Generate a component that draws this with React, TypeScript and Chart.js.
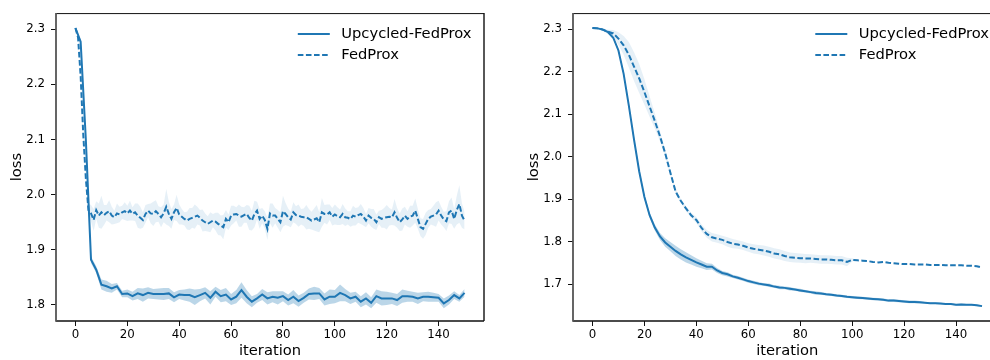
import React, { useEffect, useRef } from "react";
import { Chart, registerables } from "chart.js";

Chart.register(...registerables);
Chart.defaults.font.family = '"DejaVu Sans", sans-serif';

const BLUE = "#1f77b4";
const BAND_STRONG = "rgba(31,119,180,0.30)";
const BAND_LIGHT = "rgba(31,119,180,0.11)";

const SERIES_NAMES = ["Upcycled-FedProx", "FedProx"];
const X_TICKS = [0, 20, 40, 60, 80, 100, 120, 140];
const LEFT_Y_TICKS = [1.8, 1.9, 2.0, 2.1, 2.2, 2.3];
const RIGHT_Y_TICKS = [1.7, 1.8, 1.9, 2.0, 2.1, 2.2, 2.3];

// iteration indices at which each curve was logged
const iterEvery1 = Array.from({ length: 151 }, (_, i) => i);
const iterEvery2 = Array.from({ length: 76 }, (_, i) => i * 2);

// ---- left panel ----
const leftUpcycledMean = [
  2.302, 2.277, 2.100, 1.882, 1.864, 1.837, 1.834, 1.830, 1.834, 1.820,
  1.821, 1.816, 1.821, 1.818, 1.822, 1.820, 1.820, 1.820, 1.821, 1.814,
  1.819, 1.818, 1.818, 1.814, 1.818, 1.822, 1.813, 1.824, 1.816, 1.819,
  1.810, 1.815, 1.827, 1.815, 1.806, 1.812, 1.819, 1.812, 1.815, 1.813,
  1.816, 1.809, 1.815, 1.807, 1.813, 1.820, 1.821, 1.821, 1.810, 1.815,
  1.815, 1.822, 1.818, 1.812, 1.815, 1.806, 1.812, 1.804, 1.816, 1.812,
  1.812, 1.812, 1.809, 1.816, 1.816, 1.815, 1.812, 1.815, 1.815, 1.814,
  1.813, 1.803, 1.809, 1.818, 1.812, 1.822,
];
const leftUpcycledSpread = [
  0.002, 0.004, 0.008, 0.006, 0.006, 0.009, 0.010, 0.008, 0.006, 0.006,
  0.007, 0.008, 0.010, 0.012, 0.010, 0.009, 0.010, 0.011, 0.010, 0.009,
  0.008, 0.010, 0.012, 0.014, 0.011, 0.010, 0.012, 0.009, 0.011, 0.012,
  0.010, 0.012, 0.014, 0.012, 0.010, 0.008, 0.010, 0.011, 0.010, 0.012,
  0.009, 0.010, 0.012, 0.010, 0.009, 0.010, 0.012, 0.010, 0.011, 0.013,
  0.012, 0.015, 0.011, 0.010, 0.009, 0.010, 0.011, 0.010, 0.012, 0.013,
  0.012, 0.010, 0.011, 0.012, 0.010, 0.009, 0.010, 0.008, 0.009, 0.008,
  0.007, 0.009, 0.008, 0.007, 0.006, 0.007,
];
const leftFedProxMean = [
  2.302, 2.285, 2.215, 2.110, 2.030, 1.972, 1.966, 1.954, 1.972, 1.962,
  1.968, 1.963, 1.967, 1.970, 1.962, 1.959, 1.966, 1.964, 1.968, 1.970,
  1.966, 1.971, 1.965, 1.968, 1.962, 1.958, 1.954, 1.965, 1.971, 1.966,
  1.965, 1.970, 1.965, 1.959, 1.966, 1.978, 1.965, 1.956, 1.968, 1.976,
  1.964, 1.960, 1.956, 1.953, 1.956, 1.958, 1.960, 1.962, 1.958, 1.953,
  1.950, 1.947, 1.950, 1.953, 1.951, 1.947, 1.944, 1.941, 1.956, 1.950,
  1.962, 1.964, 1.965, 1.962, 1.960, 1.963, 1.965, 1.958, 1.953, 1.965,
  1.971, 1.956, 1.962, 1.954, 1.938, 1.966, 1.962, 1.962, 1.956, 1.950,
  1.970, 1.965, 1.959, 1.955, 1.968, 1.963, 1.962, 1.960, 1.959, 1.959,
  1.956, 1.953, 1.955, 1.957, 1.950, 1.968, 1.965, 1.964, 1.968, 1.960,
  1.964, 1.961, 1.959, 1.965, 1.959, 1.958, 1.956, 1.962, 1.960, 1.963,
  1.965, 1.960, 1.953, 1.962, 1.958, 1.956, 1.950, 1.959, 1.956, 1.958,
  1.959, 1.960, 1.959, 1.968, 1.958, 1.950, 1.955, 1.962, 1.956, 1.960,
  1.962, 1.971, 1.956, 1.941, 1.938, 1.947, 1.956, 1.960, 1.962, 1.964,
  1.971, 1.962, 1.955, 1.952, 1.968, 1.971, 1.956, 1.972, 1.983, 1.962,
  1.953,
];
const leftFedProxSpread = [
  0.002, 0.004, 0.008, 0.010, 0.010, 0.012, 0.015, 0.020, 0.016, 0.022,
  0.030, 0.018, 0.014, 0.020, 0.016, 0.012, 0.018, 0.014, 0.012, 0.016,
  0.014, 0.018, 0.012, 0.016, 0.022, 0.020, 0.014, 0.016, 0.012, 0.018,
  0.022, 0.020, 0.014, 0.018, 0.016, 0.032, 0.022, 0.018, 0.014, 0.024,
  0.018, 0.014, 0.012, 0.016, 0.020, 0.018, 0.022, 0.016, 0.014, 0.020,
  0.016, 0.014, 0.018, 0.012, 0.016, 0.020, 0.018, 0.022, 0.016, 0.014,
  0.018, 0.016, 0.012, 0.020, 0.018, 0.014, 0.016, 0.022, 0.018, 0.024,
  0.016, 0.018, 0.014, 0.016, 0.020, 0.018, 0.022, 0.014, 0.016, 0.018,
  0.028, 0.020, 0.016, 0.014, 0.018, 0.016, 0.020, 0.014, 0.016, 0.022,
  0.018, 0.016, 0.020, 0.024, 0.018, 0.026, 0.016, 0.018, 0.014, 0.016,
  0.018, 0.016, 0.014, 0.018, 0.016, 0.012, 0.014, 0.018, 0.016, 0.014,
  0.018, 0.016, 0.012, 0.014, 0.016, 0.018, 0.014, 0.012, 0.016, 0.018,
  0.022, 0.016, 0.014, 0.024, 0.018, 0.016, 0.020, 0.016, 0.014, 0.020,
  0.018, 0.022, 0.018, 0.016, 0.018, 0.020, 0.016, 0.014, 0.018, 0.022,
  0.018, 0.016, 0.014, 0.018, 0.020, 0.024, 0.018, 0.026, 0.034, 0.022,
  0.016,
];

// ---- right panel ----
const rightUpcycledMean = [
  2.303, 2.302, 2.299, 2.293, 2.280, 2.250, 2.195, 2.120, 2.040, 1.965,
  1.905, 1.862, 1.833, 1.812, 1.798, 1.788, 1.778, 1.770, 1.763, 1.757,
  1.751, 1.746, 1.741, 1.741, 1.732, 1.726, 1.723, 1.718, 1.715, 1.711,
  1.707, 1.704, 1.701, 1.699, 1.697, 1.694, 1.692, 1.691, 1.689, 1.687,
  1.685, 1.683, 1.681, 1.679, 1.678, 1.676, 1.675, 1.673, 1.672, 1.670,
  1.669, 1.668, 1.667, 1.666, 1.665, 1.664, 1.663, 1.661, 1.661, 1.660,
  1.659, 1.658, 1.658, 1.657, 1.656, 1.655, 1.655, 1.654, 1.653, 1.653,
  1.651, 1.652, 1.651, 1.651, 1.650, 1.648,
];
const rightUpcycledSpread = [
  0.001, 0.001, 0.002, 0.002, 0.003, 0.004, 0.005, 0.006, 0.007, 0.007,
  0.006, 0.006, 0.007, 0.008, 0.010, 0.011, 0.012, 0.012, 0.012, 0.011,
  0.010, 0.009, 0.008, 0.007, 0.006, 0.005, 0.005, 0.004, 0.004, 0.004,
  0.004, 0.004, 0.004, 0.003, 0.004, 0.003, 0.004, 0.003, 0.004, 0.003,
  0.004, 0.003, 0.003, 0.004, 0.003, 0.003, 0.003, 0.003, 0.003, 0.003,
  0.003, 0.003, 0.003, 0.003, 0.003, 0.003, 0.003, 0.003, 0.003, 0.003,
  0.003, 0.003, 0.003, 0.003, 0.002, 0.002, 0.002, 0.002, 0.002, 0.002,
  0.002, 0.002, 0.002, 0.002, 0.002, 0.002,
];
const rightFedProxMean = [
  2.303, 2.302, 2.299, 2.294, 2.290, 2.278, 2.262, 2.240, 2.212, 2.184,
  2.152, 2.118, 2.084, 2.048, 2.008, 1.962, 1.918, 1.896, 1.878, 1.862,
  1.851, 1.832, 1.818, 1.810, 1.807, 1.804, 1.799, 1.795, 1.793, 1.790,
  1.786, 1.783, 1.781, 1.779, 1.776, 1.772, 1.770, 1.766, 1.763, 1.762,
  1.761, 1.760, 1.760, 1.759, 1.758, 1.758, 1.757, 1.756, 1.756, 1.752,
  1.757, 1.756, 1.755, 1.754, 1.752, 1.751, 1.752, 1.750, 1.749, 1.748,
  1.747, 1.747, 1.746, 1.746, 1.746, 1.745, 1.745, 1.745, 1.744, 1.744,
  1.744, 1.744, 1.743, 1.743, 1.742, 1.739,
];
const rightFedProxSpread = [
  0.001, 0.002, 0.003, 0.005, 0.008, 0.015, 0.022, 0.030, 0.034, 0.034,
  0.030, 0.024, 0.018, 0.012, 0.008, 0.006, 0.006, 0.005, 0.006, 0.006,
  0.007, 0.008, 0.009, 0.010, 0.010, 0.010, 0.011, 0.011, 0.010, 0.010,
  0.010, 0.011, 0.011, 0.012, 0.012, 0.012, 0.012, 0.012, 0.011, 0.011,
  0.011, 0.011, 0.010, 0.010, 0.010, 0.010, 0.010, 0.010, 0.010, 0.010,
  0.004, 0, 0, 0, 0, 0, 0, 0, 0, 0,
  0, 0, 0, 0, 0, 0, 0, 0, 0, 0,
  0, 0, 0, 0, 0, 0,
];

type Curve = { iters: number[]; mean: number[]; spread: number[] };

type PanelProps = {
  left: number;
  width: number;
  yAxisWidth: number;
  rightPad: number;
  yTitlePad: number;
  yMin: number;
  yMax: number;
  yTicks: number[];
  upcycled: Curve;
  fedprox: Curve;
};

const pts = (xs: number[], ys: number[]) => xs.map((x, k) => ({ x, y: ys[k] }));
const shifted = (c: Curve, sign: number) => c.mean.map((m, k) => m + sign * c.spread[k]);

// frame around the plotting area plus the in-axes legend
const framePlugin = {
  id: "frameAndLegend",
  afterDraw(chart: any) {
    const { ctx, chartArea: a } = chart;
    ctx.save();
    ctx.setLineDash([]);
    ctx.strokeStyle = "#111";
    ctx.lineWidth = 1;
    ctx.beginPath();
    ctx.moveTo(a.left, a.top + 0.5);
    ctx.lineTo(a.right, a.top + 0.5);
    ctx.stroke();
    ctx.lineWidth = 1.4;
    ctx.beginPath();
    ctx.moveTo(a.right, a.top);
    ctx.lineTo(a.right, a.bottom);
    ctx.moveTo(a.left, a.bottom);
    ctx.lineTo(a.right, a.bottom);
    ctx.stroke();
    ctx.strokeStyle = "#555";
    ctx.lineWidth = 1.8;
    ctx.beginPath();
    ctx.moveTo(a.left, a.top);
    ctx.lineTo(a.left, a.bottom + 0.7);
    ctx.stroke();

    // legend
    ctx.font = '14.7px "DejaVu Sans", sans-serif';
    ctx.textBaseline = "middle";
    ctx.textAlign = "left";
    const widths = SERIES_NAMES.map((s) => ctx.measureText(s).width);
    const textX = a.right - 12.5 - Math.max(...widths);
    SERIES_NAMES.forEach((name, k) => {
      const y = a.top + 21 + k * 21;
      ctx.strokeStyle = BLUE;
      ctx.lineWidth = 2;
      ctx.setLineDash(k === 1 ? [5.6, 2.5] : []);
      ctx.beginPath();
      ctx.moveTo(textX - 43.5, y);
      ctx.lineTo(textX - 11.5, y);
      ctx.stroke();
      ctx.fillStyle = "#000";
      ctx.fillText(name, textX, y + 0.5);
    });
    ctx.restore();
  },
};

function LossPanel(p: PanelProps) {
  const ref = useRef<HTMLCanvasElement | null>(null);

  useEffect(() => {
    if (!ref.current) return;
    const lineBase = { borderColor: BLUE, borderWidth: 2, pointRadius: 0, fill: false, tension: 0 };
    const bandEdge = { borderWidth: 0, pointRadius: 0, borderColor: "rgba(0,0,0,0)" };
    const chart = new Chart(ref.current, {
      type: "line",
      data: {
        datasets: [
          { ...lineBase, label: SERIES_NAMES[0], data: pts(p.upcycled.iters, p.upcycled.mean) },
          { ...lineBase, label: SERIES_NAMES[1], borderDash: [5.6, 2.5], data: pts(p.fedprox.iters, p.fedprox.mean) },
          { ...bandEdge, label: "u-hi", fill: false, data: pts(p.upcycled.iters, shifted(p.upcycled, 1)) },
          { ...bandEdge, label: "u-lo", fill: "-1", backgroundColor: BAND_STRONG, data: pts(p.upcycled.iters, shifted(p.upcycled, -1)) },
          { ...bandEdge, label: "f-hi", fill: false, data: pts(p.fedprox.iters, shifted(p.fedprox, 1)) },
          { ...bandEdge, label: "f-lo", fill: "-1", backgroundColor: BAND_LIGHT, data: pts(p.fedprox.iters, shifted(p.fedprox, -1)) },
        ] as any,
      },
      options: {
        responsive: false,
        animation: false,
        events: [],
        layout: { padding: { top: 11, right: p.rightPad, left: 0, bottom: 0 } },
        plugins: { legend: { display: false }, tooltip: { enabled: false } },
        scales: {
          x: {
            type: "linear",
            min: -7.5,
            max: 157.5,
            afterBuildTicks: (s: any) => {
              s.ticks = X_TICKS.map((v) => ({ value: v }));
            },
            afterFit: (s: any) => {
              s.height = 39;
            },
            border: { display: false },
            grid: { display: true, drawOnChartArea: false, drawTicks: true, tickLength: 5, color: "#111", lineWidth: 1 },
            ticks: { color: "#000", font: { size: 11.8 }, padding: 2, maxRotation: 0, autoSkip: false },
            title: { display: true, text: "iteration", color: "#000", font: { size: 14.7 }, padding: { top: 0, bottom: 0 } },
          },
          y: {
            type: "linear",
            min: p.yMin,
            max: p.yMax,
            afterBuildTicks: (s: any) => {
              s.ticks = p.yTicks.map((v) => ({ value: v }));
            },
            afterFit: (s: any) => {
              s.width = p.yAxisWidth;
            },
            border: { display: false },
            grid: { display: true, drawOnChartArea: false, drawTicks: true, tickLength: 5, color: "#111", lineWidth: 1 },
            ticks: {
              color: "#000",
              font: { size: 11.8 },
              padding: 6,
              autoSkip: false,
              callback: (v: any) => Number(v).toFixed(1),
            },
            title: { display: true, text: "loss", color: "#000", font: { size: 14.7 }, padding: { top: p.yTitlePad, bottom: 0 } },
          },
        },
      } as any,
      plugins: [framePlugin],
    });
    return () => chart.destroy();
  }, []);

  return (
    <canvas
      ref={ref}
      width={p.width}
      height={360}
      style={{ position: "absolute", left: p.left, top: 0, width: p.width, height: 360, display: "block" }}
    />
  );
}

export default function App() {
  return (
    <div
      style={{
        position: "fixed",
        left: 0,
        top: 0,
        width: 990,
        height: 360,
        overflow: "hidden",
        background: "#fff",
      }}
    >
      <LossPanel
        left={0}
        width={495}
        yAxisWidth={56}
        rightPad={11}
        yTitlePad={8.7}
        yMin={1.771}
        yMax={2.329}
        yTicks={LEFT_Y_TICKS}
        upcycled={{ iters: iterEvery2, mean: leftUpcycledMean, spread: leftUpcycledSpread }}
        fedprox={{ iters: iterEvery1, mean: leftFedProxMean, spread: leftFedProxSpread }}
      />
      <LossPanel
        left={495}
        width={520}
        yAxisWidth={78}
        rightPad={13.5}
        yTitlePad={30.2}
        yMin={1.613}
        yMax={2.338}
        yTicks={RIGHT_Y_TICKS}
        upcycled={{ iters: iterEvery2, mean: rightUpcycledMean, spread: rightUpcycledSpread }}
        fedprox={{ iters: iterEvery2, mean: rightFedProxMean, spread: rightFedProxSpread }}
      />
    </div>
  );
}
